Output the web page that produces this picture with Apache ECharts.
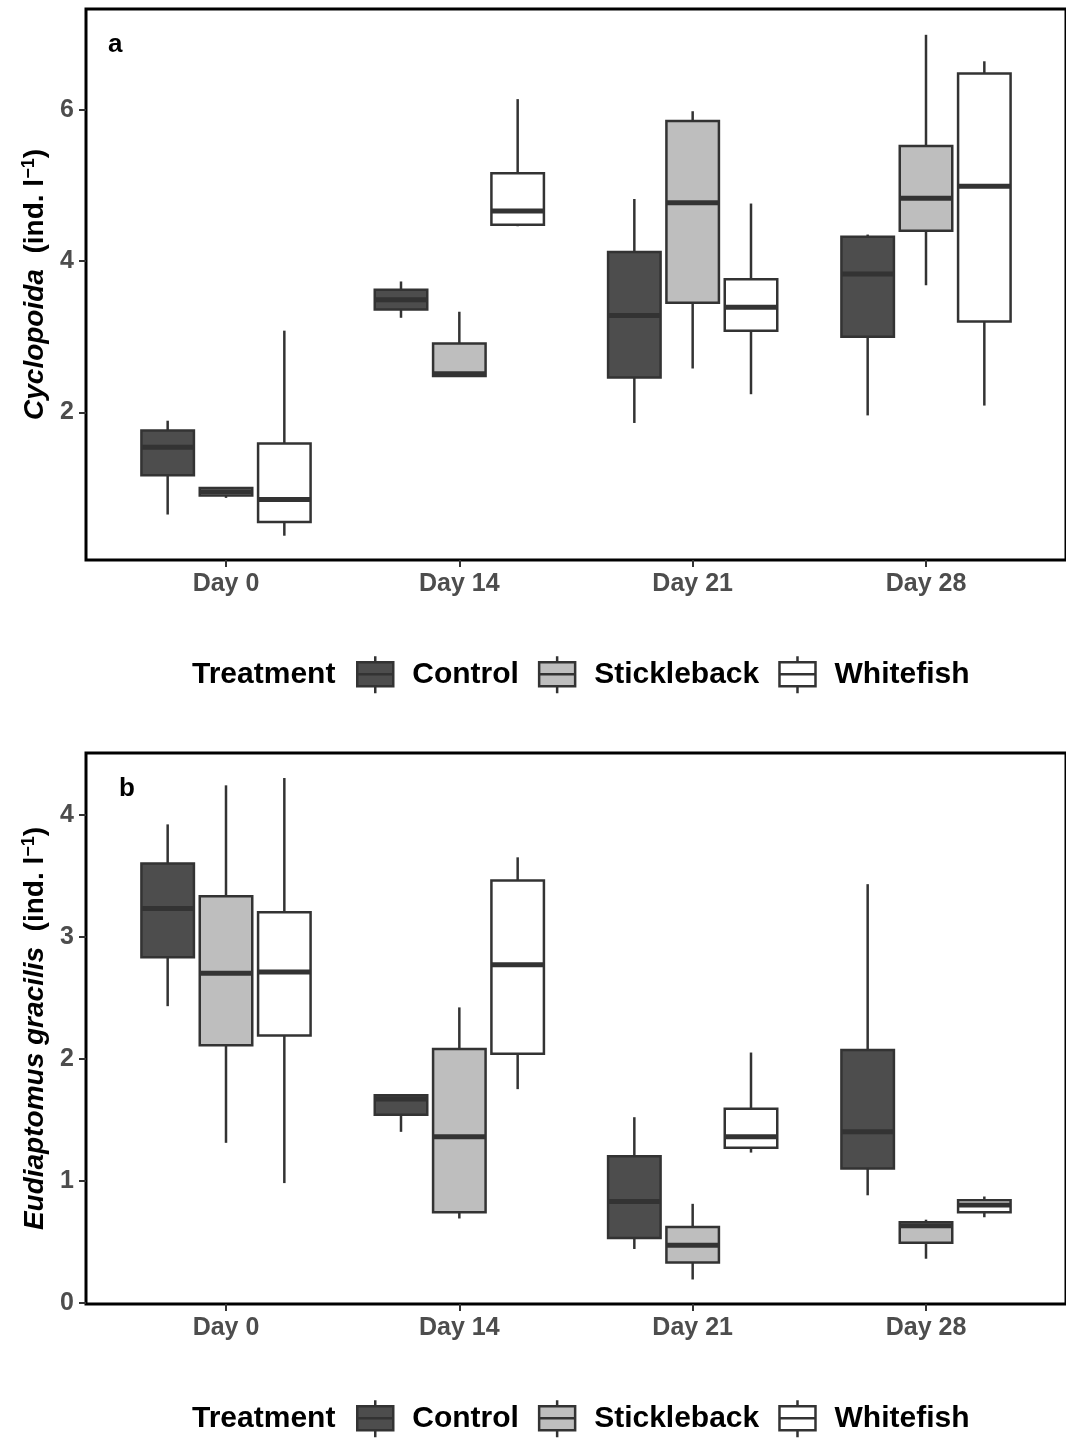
<!DOCTYPE html>
<html><head><meta charset="utf-8">
<script src="https://cdn.jsdelivr.net/npm/echarts@6/dist/echarts.min.js"></script>
<style>html,body{margin:0;padding:0;background:#fff}#chart{width:1066px;height:1438px}</style>
</head><body><div id="chart"></div>
<script>
const days = ['Day 0', 'Day 14', 'Day 21', 'Day 28'];
const treatments = ['Control', 'Stickleback', 'Whitefish'];
const ticksA = [2, 4, 6];
const ticksB = [0, 1, 2, 3, 4];

// Panel a: Cyclopoida — rows per day: [lower whisker, Q1, median, Q3, upper whisker]
const cycControl     = [[0.65, 1.17, 1.54, 1.76, 1.89], [3.25, 3.36, 3.49, 3.62, 3.73], [1.86, 2.46, 3.28, 4.12, 4.82], [1.96, 3.00, 3.83, 4.32, 4.35]];
const cycStickleback = [[0.87, 0.90, 0.95, 1.00, 1.01], [2.48, 2.48, 2.51, 2.91, 3.33], [2.58, 3.45, 4.77, 5.85, 5.98], [3.68, 4.40, 4.83, 5.52, 6.99]];
const cycWhitefish   = [[0.37, 0.55, 0.85, 1.59, 3.08], [4.46, 4.48, 4.66, 5.16, 6.14], [2.24, 3.08, 3.39, 3.76, 4.76], [2.09, 3.20, 4.99, 6.48, 6.64]];

// Panel b: Eudiaptomus gracilis
const eudControl     = [[2.43, 2.83, 3.23, 3.60, 3.92], [1.40, 1.54, 1.67, 1.70, 1.70], [0.44, 0.53, 0.83, 1.20, 1.52], [0.88, 1.10, 1.40, 2.07, 3.43]];
const eudStickleback = [[1.31, 2.11, 2.70, 3.33, 4.24], [0.69, 0.74, 1.36, 2.08, 2.42], [0.19, 0.33, 0.47, 0.62, 0.81], [0.36, 0.49, 0.63, 0.66, 0.68]];
const eudWhitefish   = [[0.98, 2.19, 2.71, 3.20, 4.30], [1.75, 2.04, 2.77, 3.46, 3.65], [1.23, 1.27, 1.36, 1.59, 2.05], [0.70, 0.74, 0.80, 0.84, 0.87]];

const FILLS = ['#4d4d4d', '#bebebe', '#ffffff'];
const LINE = '#333333';
const DODGE = [-0.25, 0, 0.25];
const BOXW = 0.225;
const FONT = '"Liberation Sans", Arial, Helvetica, sans-serif';

function makeRender(k) {
  return function (params, api) {
    const x = api.value(0) + DODGE[k];
    const c = v => api.coord([x, v]);
    const lo = c(api.value(1)), q1 = c(api.value(2)), md = c(api.value(3)), q3 = c(api.value(4)), hi = c(api.value(5));
    const hw = api.size([BOXW, 0])[0] / 2;
    const cx = lo[0];
    return {
      type: 'group',
      children: [
        {type: 'line', shape: {x1: cx, y1: hi[1], x2: cx, y2: q3[1]}, style: {stroke: LINE, lineWidth: 2.5}},
        {type: 'line', shape: {x1: cx, y1: q1[1], x2: cx, y2: lo[1]}, style: {stroke: LINE, lineWidth: 2.5}},
        {type: 'rect', shape: {x: cx - hw, y: q3[1], width: 2 * hw, height: q1[1] - q3[1]}, style: {fill: FILLS[k], stroke: LINE, lineWidth: 2.5}},
        {type: 'line', shape: {x1: cx - hw, y1: md[1], x2: cx + hw, y2: md[1]}, style: {stroke: LINE, lineWidth: 5}}
      ]
    };
  };
}

function toData(rows) { return rows.map((r, i) => [i].concat(r)); }

const panels = [
  {rows: [cycControl, cycStickleback, cycWhitefish], name: '{it|Cyclopoida}  (ind. l{sup|−1})', min: 0.049, max: 7.331, ticks: ticksA},
  {rows: [eudControl, eudStickleback, eudWhitefish], name: '{it|Eudiaptomus gracilis}  (ind. l{sup|−1})', min: -0.011, max: 4.505, ticks: ticksB}
];
const gridTops = [9, 753];
const PLOT_H = 551;

const grids = [], xAxes = [], yAxes = [], series = [];
panels.forEach((p, pi) => {
  grids.push({left: 86, right: -8, top: gridTops[pi], height: PLOT_H, show: true, borderColor: '#000', borderWidth: 3, backgroundColor: 'transparent'});
  xAxes.push({
    type: 'value', gridIndex: pi, min: -0.6, max: 3.6, position: 'bottom',
    axisLine: {show: false, onZero: false}, splitLine: {show: false},
    axisTick: {show: true, length: 7, lineStyle: {color: LINE, width: 2}, customValues: [0, 1, 2, 3]},
    axisLabel: {customValues: [0, 1, 2, 3], formatter: v => days[Math.round(v)], color: '#4d4d4d', fontWeight: 'bold', fontSize: 25, fontFamily: FONT, margin: 12}
  });
  yAxes.push({
    type: 'value', gridIndex: pi, min: p.min, max: p.max, position: 'left',
    axisLine: {show: false, onZero: false}, splitLine: {show: false},
    axisTick: {show: true, length: 7, lineStyle: {color: LINE, width: 2}, customValues: p.ticks},
    axisLabel: {customValues: p.ticks, color: '#4d4d4d', fontWeight: 'bold', fontSize: 25, fontFamily: FONT, margin: 12},
    name: p.name, nameLocation: 'middle', nameGap: 36,
    nameTextStyle: {
      color: '#000', fontWeight: 'bold', fontSize: 28, fontFamily: FONT,
      rich: {
        it: {fontStyle: 'italic', fontWeight: 'bold', fontSize: 28, fontFamily: FONT, color: '#000'},
        sup: {fontWeight: 'bold', fontSize: 18, fontFamily: FONT, color: '#000', verticalAlign: 'top', padding: [0, 0, 12, 0]}
      }
    }
  });
  p.rows.forEach((rows, k) => {
    series.push({
      type: 'custom', name: treatments[k], xAxisIndex: pi, yAxisIndex: pi,
      renderItem: makeRender(k),
      encode: {x: 0, y: [1, 2, 3, 4, 5]},
      itemStyle: {color: FILLS[k], borderColor: LINE, borderWidth: 2.5},
      data: toData(rows)
    });
  });
});

const ICON = 'path://M0,6 L36,6 L36,30 L0,30 Z M0,18 L36,18 M18,0 L18,6 M18,30 L18,37';
function legendAt(top) {
  return {
    left: 356, top: top, padding: 0, orient: 'horizontal', itemWidth: 36, itemHeight: 37, itemGap: 19,
    selectedMode: false,
    textStyle: {color: '#000', fontWeight: 'bold', fontSize: 30, fontFamily: FONT, padding: [0, 0, 0, 14]},
    data: treatments.map((t, k) => ({name: t, icon: ICON, itemStyle: {color: FILLS[k], borderColor: LINE, borderWidth: 2.5}}))
  };
}

const option = {
  backgroundColor: '#ffffff',
  animation: false,
  title: [
    {text: 'Treatment', left: 187, top: 655, padding: 5, textStyle: {color: '#000', fontWeight: 'bold', fontSize: 30, fontFamily: FONT, lineHeight: 30}},
    {text: 'Treatment', left: 187, top: 1399, padding: 5, textStyle: {color: '#000', fontWeight: 'bold', fontSize: 30, fontFamily: FONT, lineHeight: 30}},
    {text: 'a', left: 103, top: 25, padding: 5, textStyle: {color: '#000', fontWeight: 'bold', fontSize: 26, fontFamily: FONT, lineHeight: 30}},
    {text: 'b', left: 114, top: 769, padding: 5, textStyle: {color: '#000', fontWeight: 'bold', fontSize: 26, fontFamily: FONT, lineHeight: 30}}
  ],
  legend: [legendAt(655), legendAt(1399)],
  grid: grids,
  xAxis: xAxes,
  yAxis: yAxes,
  series: series
};

const chart = echarts.init(document.getElementById('chart'), null, {renderer: 'canvas'});
chart.setOption(option);
</script>
</body></html>
